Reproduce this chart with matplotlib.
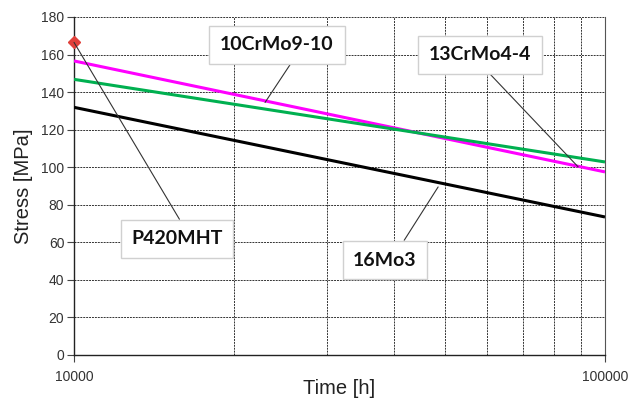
import matplotlib
matplotlib.use("Agg")
import matplotlib.pyplot as plt
import numpy as np
from matplotlib.ticker import FixedLocator, NullFormatter, FixedFormatter

# Data
time_h = [10000, 100000]
s_10CrMo9_10 = [156.6, 97.5]
s_13CrMo4_4 = [146.8, 102.8]
s_16Mo3 = [131.9, 73.5]
p420_time = [10000]
p420_stress = [166.5]

labels = ["10CrMo9-10", "13CrMo4-4", "P420MHT", "16Mo3"]
yticks = [0, 20, 40, 60, 80, 100, 120, 140, 160, 180]
xtick_labels = ["10000", "100000"]

plt.rcParams['font.family'] = ['Liberation Sans', 'DejaVu Sans']

fig = plt.figure(figsize=(6.33, 4.0), dpi=100)
ax = fig.add_axes([74/633, 1-355/400, 531/633, 338/400])

ax.set_xscale('log')
ax.set_xlim(10000, 100000)
ax.set_ylim(0, 180)

ax.plot(time_h, s_10CrMo9_10, color='#ff00ff', lw=2.2, solid_capstyle='butt', zorder=3)
ax.plot(time_h, s_13CrMo4_4, color='#00b050', lw=2.2, solid_capstyle='butt', zorder=3)
ax.plot(time_h, s_16Mo3, color='black', lw=2.2, solid_capstyle='butt', zorder=3)
ax.plot(p420_time, p420_stress, marker='D', color='#e0403a', markersize=6, ls='none',
        clip_on=False, zorder=5)

# ticks
ax.xaxis.set_major_locator(FixedLocator(time_h))
ax.xaxis.set_major_formatter(FixedFormatter(xtick_labels))
ax.xaxis.set_minor_locator(FixedLocator([20000, 30000, 40000, 50000, 60000, 70000, 80000, 90000]))
ax.xaxis.set_minor_formatter(NullFormatter())
ax.set_yticks(yticks)
ax.tick_params(axis='x', which='major', length=5, direction='out', labelsize=10, pad=6, color='#444444')
ax.tick_params(axis='x', which='minor', length=0)
ax.tick_params(axis='y', length=5, direction='out', labelsize=10, pad=2, color='#444444')
for lab in ax.get_yticklabels() + ax.get_xticklabels():
    lab.set_color('#333333')

ax.grid(True, which='both', color='#333333', linestyle=(0, (2, 1)), linewidth=0.7, zorder=0)
ax.set_axisbelow(True)

for side in ['left', 'bottom']:
    ax.spines[side].set_color('#222222')
    ax.spines[side].set_linewidth(1.0)
ax.spines['right'].set_color('#555555')
ax.spines['right'].set_linewidth(0.8)
ax.spines['top'].set_visible(False)

ax.set_ylabel('Stress [MPa]', fontsize=14.5, color='#222222', labelpad=6)
ax.set_xlabel('Time [h]', fontsize=14.5, color='#222222', labelpad=-4)

bbox = dict(boxstyle='square,pad=0.55', fc='white', ec='#d0d0d0', lw=1.0)
afont = dict(family=['Lato', 'DejaVu Sans'], weight='bold', fontsize=14, color='#111111')

def px(x, y):
    return ((x - 74) / 531, (355 - y) / 338)

ax.annotate(labels[0], xy=(22900, 134.5), xycoords='data', xytext=px(277, 45),
            textcoords='axes fraction', ha='center', va='center', bbox=bbox, **afont,
            arrowprops=dict(arrowstyle='-', color='#333333', lw=0.8, relpos=(0.68, 0),
                            shrinkA=0, shrinkB=0), zorder=6)
ax.annotate(labels[1], xy=(89000, 100.2), xycoords='data', xytext=px(480, 55),
            textcoords='axes fraction', ha='center', va='center', bbox=bbox, **afont,
            arrowprops=dict(arrowstyle='-', color='#333333', lw=0.8, relpos=(0.5, 0),
                            shrinkA=0, shrinkB=0), zorder=6)
ax.annotate(labels[2], xy=(p420_time[0], p420_stress[0]), xycoords='data', xytext=px(177, 239),
            textcoords='axes fraction', ha='center', va='center', bbox=bbox, **afont,
            arrowprops=dict(arrowstyle='-', color='#333333', lw=0.8, relpos=(0.6, 1),
                            shrinkA=0, shrinkB=0), zorder=6)
ax.annotate(labels[3], xy=(48500, 89.5), xycoords='data', xytext=px(385, 260),
            textcoords='axes fraction', ha='center', va='center', bbox=bbox, **afont,
            arrowprops=dict(arrowstyle='-', color='#333333', lw=0.8, relpos=(0.69, 1),
                            shrinkA=0, shrinkB=0), zorder=6)

fig.savefig('out.png', dpi=100, facecolor='white')
